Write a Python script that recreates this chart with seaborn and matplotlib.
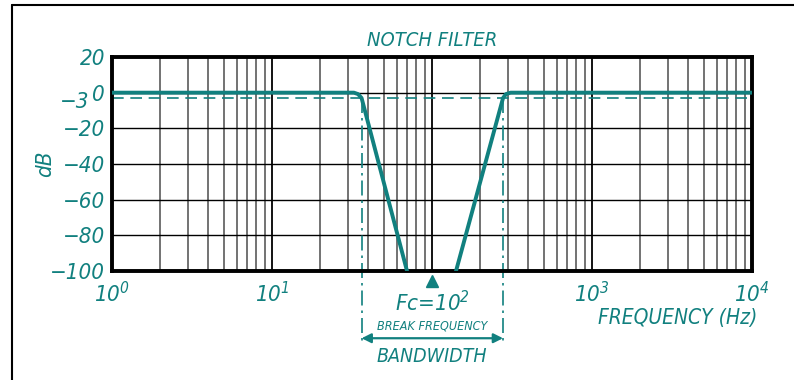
import numpy as np
import pandas as pd
import matplotlib
matplotlib.use("Agg")
import matplotlib.pyplot as plt
from matplotlib.lines import Line2D
from matplotlib.transforms import blended_transform_factory
import seaborn as sns

# Response curve of the notch filter (frequency in Hz, gain in dB)
lower_freq = [1, 32.5, 34.5, 36.3, 69.8]
lower_db = [0, 0, -0.8, -3, -100]
upper_freq = [141.3, 278, 290, 310, 10000]
upper_db = [-100, -3, -0.8, 0, 0]

center_freq = 100
band_edges = [36.3, 278]
cutoff_db = -3

y_ticks = [20, 0, -20, -40, -60, -80, -100]
y_tick_labels = ["20", "0", "\u221220", "\u221240", "\u221260", "\u221280", "\u2212100"]
x_ticks = [1, 10, 100, 1000, 10000]
x_tick_labels = ["$10^{0}$", "$10^{1}$", "", "$10^{3}$", "$10^{4}$"]

TEAL = "#11807f"
FONT = ["DejaVu Sans Condensed", "DejaVu Sans"]

sns.set_theme(style="white")
plt.rcParams["font.family"] = FONT
plt.rcParams["font.style"] = "italic"
plt.rcParams["font.stretch"] = "condensed"
plt.rcParams["mathtext.fontset"] = "custom"
plt.rcParams["mathtext.rm"] = "DejaVu Sans:italic"
plt.rcParams["mathtext.it"] = "DejaVu Sans:italic"

fig = plt.figure(figsize=(7.94, 3.8), dpi=100)
ax = fig.add_axes([112 / 794, 1 - 271 / 380, 640 / 794, 214 / 380])

df = pd.DataFrame({
    "freq": lower_freq + upper_freq,
    "db": lower_db + upper_db,
    "part": ["low"] * len(lower_freq) + ["high"] * len(upper_freq),
})

ax.set_xscale("log")
ax.set_xlim(1, 10000)
ax.set_ylim(-100, 20)

# Grid: decades in black, intermediate lines in grey
for dec in [1, 10, 100, 1000]:
    for m in range(2, 10):
        ax.axvline(dec * m, color="#5a5a5a", lw=1.2, zorder=1)
for dec in [10, 100, 1000]:
    ax.axvline(dec, color="black", lw=1.3, zorder=1)
for yv in [0, -20, -40, -60, -80]:
    ax.axhline(yv, color="black", lw=1.0, zorder=1)

# -3 dB reference
ax.axhline(cutoff_db, color=TEAL, lw=1.2, ls=(0, (7, 4)), zorder=2)

sns.lineplot(data=df, x="freq", y="db", units="part", estimator=None,
             sort=False, color=TEAL, lw=2.8, ax=ax, zorder=3)

for s in ax.spines.values():
    s.set_color("black")
    s.set_linewidth(2.8)

ax.set_xticks(x_ticks)
ax.set_xticklabels(x_tick_labels)
ax.xaxis.set_minor_locator(matplotlib.ticker.NullLocator())
ax.set_yticks(y_ticks)
ax.set_yticklabels(y_tick_labels)
ax.tick_params(axis="both", length=0, labelcolor=TEAL, labelsize=16)
ax.tick_params(axis="x", pad=7)
ax.tick_params(axis="y", pad=5)
ax.set_xlabel("")
ax.set_ylabel("dB", color=TEAL, fontsize=16)
ax.yaxis.set_label_coords(-0.089, 0.5)

trans_ay = blended_transform_factory(ax.transAxes, ax.transData)
ax.text(-0.036, -5.0, "\u22123", transform=trans_ay, ha="right", va="center",
        color=TEAL, fontsize=16)

ax.set_title("NOTCH FILTER", color=TEAL, fontsize=14.5, pad=8)

# Band edges, centre marker and annotations
for f in band_edges:
    ax.plot([f, f], [cutoff_db, -140], color=TEAL, lw=1.2,
            ls=(0, (9, 3, 1.5, 3)), clip_on=False, zorder=2)

trans_xa = blended_transform_factory(ax.transData, ax.transAxes)
ax.plot([center_freq], [-0.047], marker="^", ms=8, color=TEAL,
        transform=trans_xa, clip_on=False)

ax.text(center_freq, -117.5, "Fc=$10^{2}$", color=TEAL, fontsize=16,
        ha="center", va="center", clip_on=False)
ax.text(center_freq, -131, "BREAK FREQUENCY", color=TEAL, fontsize=9,
        ha="center", va="center", clip_on=False)
ax.annotate("", xy=(band_edges[1], -137.7), xytext=(band_edges[0], -137.7),
            arrowprops=dict(arrowstyle="<|-|>", color=TEAL, lw=1.6,
                            shrinkA=0, shrinkB=0, mutation_scale=14),
            annotation_clip=False)
ax.text(center_freq, -148, "BANDWIDTH", color=TEAL, fontsize=14,
        ha="center", va="center", clip_on=False)

ax.text(1.008, -0.22, "FREQUENCY (Hz)", transform=ax.transAxes, color=TEAL,
        fontsize=15, ha="right", va="center")

# Sheet frame
fig.add_artist(Line2D([11.5 / 794, 1.0], [1 - 5 / 380, 1 - 5 / 380],
                      color="black", lw=1.5))
fig.add_artist(Line2D([11.5 / 794, 11.5 / 794], [0, 1 - 5 / 380],
                      color="black", lw=1.5))

fig.savefig("out.png", dpi=100)
